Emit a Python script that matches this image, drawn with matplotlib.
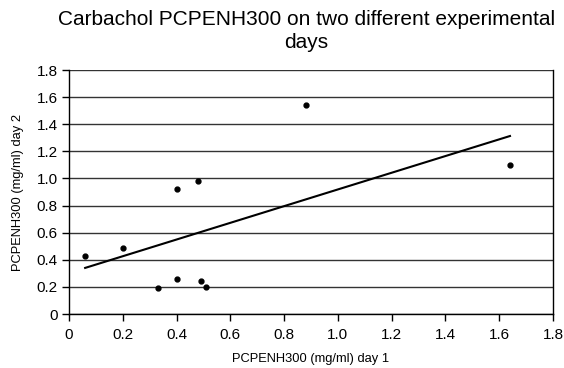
import numpy as np
import matplotlib
matplotlib.use("Agg")
import matplotlib.pyplot as plt

day1 = [0.06, 0.20, 0.33, 0.40, 0.40, 0.48, 0.49, 0.51, 0.88, 1.64]
day2 = [0.43, 0.49, 0.19, 0.92, 0.26, 0.98, 0.24, 0.20, 1.54, 1.10]
xticks = [0, 0.2, 0.4, 0.6, 0.8, 1.0, 1.2, 1.4, 1.6, 1.8]
xticklabels = ["0", "0.2", "0.4", "0.6", "0.8", "1.0", "1.2", "1.4", "1.6", "1.8"]
yticks = [0, 0.2, 0.4, 0.6, 0.8, 1.0, 1.2, 1.4, 1.6, 1.8]
yticklabels = ["0", "0.2", "0.4", "0.6", "0.8", "1.0", "1.2", "1.4", "1.6", "1.8"]

plt.rcParams['font.family'] = ['Liberation Sans', 'DejaVu Sans']

fig = plt.figure(figsize=(5.64, 3.68), dpi=100)
ax = fig.add_axes([69/564, 1 - 314/368, (553-69)/564, (314-70)/368])

x = np.array(day1); y = np.array(day2)
m, b = np.polyfit(x, y, 1)
xl = np.array([x.min(), x.max()])
ax.plot(xl, m*xl + b, color='black', lw=1.5, zorder=3)
ax.plot(x, y, 'o', color='black', markersize=3.5, zorder=4)

ax.set_xlim(0, 1.8)
ax.set_ylim(0, 1.8)
ax.set_xticks(xticks)
ax.set_xticklabels(xticklabels, fontsize=11)
ax.set_yticks(yticks)
ax.set_yticklabels(yticklabels, fontsize=11)
ax.yaxis.grid(True, color='#333333', lw=1)
ax.set_axisbelow(True)
ax.spines['top'].set_visible(False)
for s in ['left', 'bottom', 'right']:
    ax.spines[s].set_color('black')
    ax.spines[s].set_linewidth(1)
ax.tick_params(axis='both', direction='out', length=5, width=1, pad=3, colors='black')
ax.tick_params(axis='x', pad=5)

ax.set_xlabel("PCPENH300 (mg/ml) day 1", fontsize=9.3, labelpad=8)
ax.set_ylabel("PCPENH300 (mg/ml) day 2", fontsize=9.3, labelpad=9)
fig.text((58+555)/2/564, 1 - 31/368, "Carbachol PCPENH300 on two different experimental\ndays",
         ha='center', va='center', fontsize=15, linespacing=1.3)

fig.savefig("out.png", dpi=100)
